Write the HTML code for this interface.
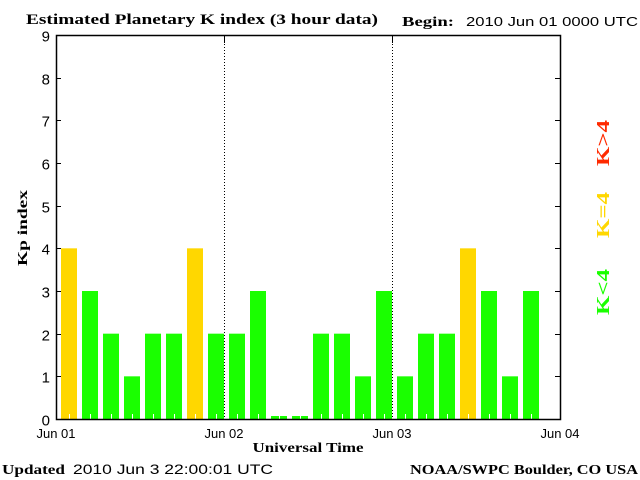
<!DOCTYPE html>
<html><head><meta charset="utf-8"><style>
html,body{margin:0;padding:0;background:#fff;width:640px;height:480px;overflow:hidden}
svg text{font-family:"Liberation Sans",sans-serif}
.serif{font-family:"Liberation Serif",serif;font-weight:bold}
</style></head><body>
<svg id="chart" width="640" height="480" viewBox="0 0 640 480" xmlns="http://www.w3.org/2000/svg">
<text class="serif" x="26" y="24" font-size="15" textLength="352" lengthAdjust="spacingAndGlyphs">Estimated Planetary K index (3 hour data)</text>
<text class="serif" x="402" y="26" font-size="14" textLength="52" lengthAdjust="spacingAndGlyphs">Begin:</text>
<text x="466" y="26" font-size="13" textLength="172" lengthAdjust="spacingAndGlyphs">2010 Jun 01 0000 UTC</text>
<text class="serif" font-size="14" transform="translate(27,228) rotate(-90)" text-anchor="middle" textLength="76" lengthAdjust="spacingAndGlyphs">Kp index</text>
<text class="serif" x="308" y="452" font-size="14" text-anchor="middle" textLength="111" lengthAdjust="spacingAndGlyphs">Universal Time</text>
<text class="serif" x="2" y="474" font-size="14" textLength="63" lengthAdjust="spacingAndGlyphs">Updated</text>
<text x="73" y="474" font-size="14" textLength="200" lengthAdjust="spacingAndGlyphs">2010 Jun  3 22:00:01 UTC</text>
<text class="serif" x="410" y="474" font-size="14" textLength="228" lengthAdjust="spacingAndGlyphs">NOAA/SWPC Boulder, CO USA</text>
<text class="serif" font-size="18" fill="#ff2a00" transform="translate(609,143) rotate(-90)" text-anchor="middle" textLength="46" lengthAdjust="spacingAndGlyphs">K&gt;4</text>
<text class="serif" font-size="18" fill="#ffd700" transform="translate(609,215) rotate(-90)" text-anchor="middle" textLength="46" lengthAdjust="spacingAndGlyphs">K=4</text>
<text class="serif" font-size="18" fill="#1aff00" transform="translate(609,292) rotate(-90)" text-anchor="middle" textLength="46" lengthAdjust="spacingAndGlyphs">K&lt;4</text>
<g id="plot"></g>
</svg>
<script>
const kpValues = [4,3,2,1,2,2,4,2, 2,3,0,0,2,2,1,3, 1,2,2,4,3,1,3];
const yTicks = [0,1,2,3,4,5,6,7,8,9];
const dayLabels = ["Jun 01","Jun 02","Jun 03","Jun 04"];
const L=56,R=560,T=35,B=419;
const NS="http://www.w3.org/2000/svg";
const g=document.getElementById('plot');
function y(v){return B-(v/9)*(B-T);}
function xSlot(i){return L+i*(R-L)/24;}
function xDay(d){return L+d*(R-L)/3;}
function mk(tag,attrs){const e=document.createElementNS(NS,tag);for(const k in attrs)e.setAttribute(k,attrs[k]);g.appendChild(e);return e;}
kpValues.forEach((v,i)=>{
  const top=v===0?B-3:y(v);
  const c=v>4?'#ff2a00':(v===4?'#ffd700':'#1aff00');
  const r=mk('rect',{x:xSlot(i)+5,y:top,width:16,height:B-top,fill:c});
  
  
  const t=mk('line',{x1:xSlot(i)+13.5,x2:xSlot(i)+13.5,y1:B-5,y2:B,stroke:'#fff','stroke-width':1});
  
  
});
[1,2].forEach(d=>{
  const l=mk('line',{x1:xDay(d)+0.5,x2:xDay(d)+0.5,y1:T,y2:B,stroke:'#000','stroke-dasharray':'1,2'});
  
  
  const tt=mk('line',{x1:xDay(d)+0.5,x2:xDay(d)+0.5,y1:T,y2:T+8,stroke:'#000'});
  
  
});
const frame=mk('rect',{x:L+0.5,y:T+0.5,width:R-L,height:B-T,fill:'none',stroke:'#000','stroke-width':1.5});


yTicks.forEach(v=>{
  const yy=Math.round(y(v))+0.5;
  const a=mk('line',{x1:L,x2:L+5,y1:yy,y2:yy,stroke:'#000'});
  
  
  const b=mk('line',{x1:R-5,x2:R,y1:yy,y2:yy,stroke:'#000'});
  
  
  const t=mk('text',{x:L-6,y:yy+6,'font-size':15,'text-anchor':'end'});
  t.textContent=v;
  
  
});
dayLabels.forEach((s,d)=>{
  const t=mk('text',{x:xDay(d),y:438,'font-size':13,'text-anchor':'middle'});
  t.textContent=s;
  
  
});
</script>
</body></html>
